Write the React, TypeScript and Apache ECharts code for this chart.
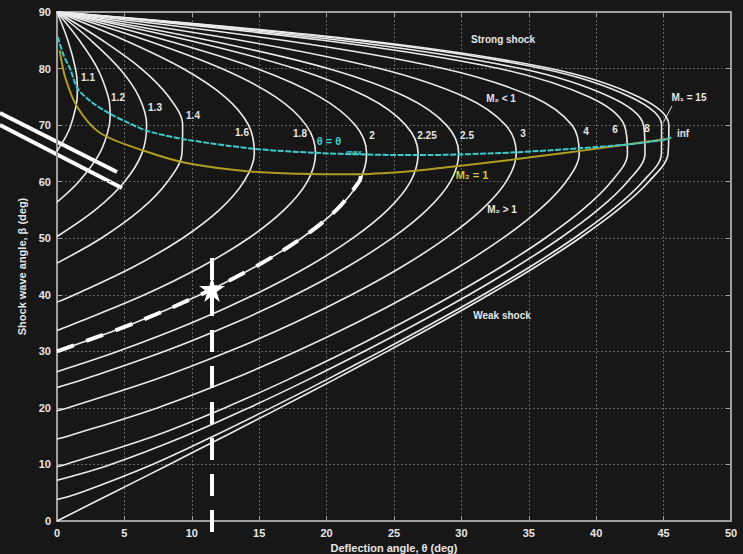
import React, { useEffect, useRef } from "react";
import * as echarts from "echarts";

// θ–β–M oblique shock chart: each curve is [deflection θ (deg), shock angle β (deg)]
const curveM1_1 = [[0, 65.4], [0.66, 68], [1.03, 70], [1.5, 75], [1.51, 77], [1.37, 80], [0.8, 85], [0, 90]];
const curveM1_2 = [[0, 56.4], [1.61, 60], [3.16, 65], [3.88, 70], [3.94, 72], [3.8, 75], [3.01, 80], [1.66, 85], [0, 90]];
const curveM1_3 = [[0, 50.3], [2.84, 55], [5.01, 60], [6.3, 65], [6.65, 70], [6.08, 75], [4.64, 80], [2.51, 85], [0, 90]];
const curveM1_4 = [[0, 45.6], [3.28, 50], [6.18, 55], [8.2, 60], [9.27, 65], [9.32, 70], [8.29, 75], [6.25, 80], [3.36, 85], [0, 90]];
const curveM1_6 = [[0, 38.7], [1.31, 40], [5.72, 45], [9.31, 50], [12.05, 55], [13.86, 60], [14.64, 65], [14.21, 70], [12.46, 75], [9.34, 80], [5.03, 85], [0, 90]];
const curveM1_8 = [[0, 33.7], [1.41, 35], [6.49, 40], [10.74, 45], [14.21, 50], [16.85, 55], [18.57, 60], [19.18, 65], [18.48, 70], [16.21, 75], [12.21, 80], [6.61, 85], [0, 90]];
const curveM2 = [[0, 30], [5.75, 35], [10.62, 40], [14.74, 45], [18.13, 50], [20.73, 55], [22.41, 60], [22.97, 65], [22.12, 70], [19.49, 75], [14.81, 80], [8.08, 85], [0, 90]];
const curveM2_25 = [[0, 26.4], [4.53, 30], [9.96, 35], [14.63, 40], [18.63, 45], [21.94, 50], [24.53, 55], [26.22, 60], [26.79, 65], [25.87, 70], [22.99, 75], [17.66, 80], [9.74, 85], [0, 90]];
const curveM2_5 = [[0, 23.6], [1.93, 25], [7.99, 30], [13.17, 35], [17.68, 40], [21.57, 45], [24.85, 50], [27.44, 55], [29.18, 60], [29.8, 65], [28.89, 70], [25.88, 75], [20.1, 80], [11.21, 85], [0, 90]];
const curveM3 = [[0, 19.5], [0.77, 20], [7.28, 25], [12.77, 30], [17.58, 35], [21.85, 40], [25.62, 45], [28.86, 50], [31.49, 55], [33.32, 60], [34.07, 65], [33.28, 70], [30.22, 75], [23.93, 80], [13.6, 85], [0, 90]];
const curveM4 = [[0, 14.5], [0.8, 15], [7.44, 20], [12.94, 25], [17.78, 30], [22.18, 35], [26.2, 40], [29.85, 45], [33.07, 50], [35.77, 55], [37.76, 60], [38.74, 65], [38.2, 70], [35.3, 75], [28.66, 80], [16.76, 85], [0, 90]];
const curveM6 = [[0, 9.6], [0.64, 10], [7.18, 15], [12.44, 20], [17.13, 25], [21.49, 30], [25.57, 35], [29.42, 40], [32.98, 45], [36.2, 50], [38.97, 55], [41.11, 60], [42.32, 65], [42.08, 70], [39.45, 75], [32.79, 80], [19.72, 85], [0, 90]];
const curveM8 = [[0, 7.2], [3.98, 10], [9.47, 15], [14.22, 20], [18.63, 25], [22.8, 30], [26.78, 35], [30.56, 40], [34.09, 45], [37.32, 50], [40.12, 55], [42.32, 60], [43.62, 65], [43.51, 70], [41.01, 75], [34.4, 80], [20.95, 85], [0, 90]];
const curveM15 = [[0, 3.8], [1.72, 5], [7.08, 10], [11.6, 15], [15.87, 20], [20.01, 25], [24.02, 30], [27.9, 35], [31.62, 40], [35.13, 45], [38.35, 50], [41.18, 55], [43.45, 60], [44.84, 65], [44.85, 70], [42.5, 75], [35.97, 80], [22.18, 85], [0, 90]];
const curveMinf = [[0, 0], [4.16, 5], [8.32, 10], [12.44, 15], [16.53, 20], [20.56, 25], [24.5, 30], [28.35, 35], [32.04, 40], [35.54, 45], [38.76, 50], [41.61, 55], [43.9, 60], [45.33, 65], [45.39, 70], [43.12, 75], [36.61, 80], [22.7, 85], [0, 90]];

const machCurves = [curveM1_1, curveM1_2, curveM1_3, curveM1_4, curveM1_6, curveM1_8, curveM2, curveM2_25, curveM2_5, curveM3, curveM4, curveM6, curveM8, curveM15, curveMinf];
const machLabels = ["1.1", "1.2", "1.3", "1.4", "1.6", "1.8", "2", "2.25", "2.5", "3", "4", "6", "8", "M\u2081 = 15", "inf"];

// locus of maximum deflection and sonic (M2 = 1) line
const thetaMaxLine = [[0.05, 85.6], [0.5, 82.3], [1.0, 79.8], [1.52, 76.5], [2.5, 74.2], [3.94, 72.0], [5.3, 70.4], [6.66, 69.0], [9.43, 67.5], [14.66, 65.8], [19.18, 65.1], [22.97, 64.8], [26.8, 64.7], [29.8, 64.8], [34.07, 65.2], [38.77, 65.9], [42.44, 66.6], [43.79, 67.0], [45.0, 67.4], [45.58, 67.8]];
const sonicLine = [[0.2, 83.2], [0.6, 78.5], [1.5, 73.2], [3.2, 68.6], [6.4, 65.5], [9.6, 63.3], [14.3, 61.8], [18, 61.4], [22, 61.3], [26, 61.8], [29.1, 62.6], [32.8, 63.6], [36, 64.6], [38.7, 65.4], [42, 66.5], [45.4, 67.6]];

// worked example: M = 2 weak branch, θ = 11.5°
const highlightedWeakM2 = [[0, 30], [5.75, 35], [10.62, 40], [14.74, 45], [18.13, 50], [20.73, 55], [22.41, 60], [22.55, 61]];
const exampleTheta = 11.5;
const exampleBeta = 41;
const exampleVertical = [[exampleTheta, 46.5], [exampleTheta, -3]];

const xTicks = { min: 0, max: 50, interval: 5 };
const yTicks = { min: 0, max: 90, interval: 10 };

// label placement (pixels)
const machLabelPos = [[88, 77], [118, 97], [155, 107], [193, 115], [242, 132], [300, 133], [372, 135], [427, 135], [467, 135], [523, 133], [586, 131], [615, 129], [647, 128], [689, 97], [683, 133]];

const STAR = "path://M50,0 L60,36 L98,36 L67,57 L79,94 L50,72 L21,94 L33,57 L2,36 L40,36 Z";

const FONT = '"Liberation Sans", Arial, sans-serif';
const AXIS_GREY = "#a0a0a0";
const TEXT = "#e6e6e6";

export default function App() {
  const ref = useRef<HTMLDivElement>(null);

  useEffect(() => {
    if (!ref.current) return;
    const chart = echarts.init(ref.current, null, { renderer: "svg" });

    const curveSeries = machCurves.map((d, i) => ({
      type: "line",
      name: machLabels[i],
      data: d,
      smooth: 0.35,
      showSymbol: false,
      silent: true,
      z: 2,
      lineStyle: { color: "#ebebeb", width: 1.6 },
    }));

    const labelText = (txt: string, x: number, y: number, fill = TEXT, size = 10) => ({
      type: "text",
      x,
      y,
      silent: true,
      z: 10,
      style: {
        text: txt,
        fill,
        font: `bold ${size}px ${FONT}`,
        align: "center",
        verticalAlign: "middle",
      },
    });

    const graphics: any[] = machLabels.map((t, i) => labelText(t, machLabelPos[i][0], machLabelPos[i][1]));
    graphics.push(
      labelText("Strong shock", 503, 39),
      labelText("M\u2082 < 1", 501, 98),
      labelText("M\u2082 > 1", 502, 209),
      labelText("Weak shock", 502, 315),
      labelText("\u03b8 = \u03b8", 329, 141, "#3fd0d2", 11),
      labelText("max", 354, 152, "#3fd0d2", 8),
      labelText("M\u2082 = 1", 472, 175, "#d8c531", 11),
      {
        type: "line",
        silent: true,
        shape: { x1: 672, y1: 106, x2: 663, y2: 123 },
        style: { stroke: "#dddddd", lineWidth: 1 },
      },
      {
        type: "line",
        silent: true,
        shape: { x1: 0, y1: 113, x2: 117, y2: 172 },
        style: { stroke: "#ffffff", lineWidth: 4 },
      },
      {
        type: "line",
        silent: true,
        shape: { x1: 0, y1: 125, x2: 122, y2: 188 },
        style: { stroke: "#ffffff", lineWidth: 4 },
      }
    );

    const axisLabelStyle = { color: TEXT, fontSize: 11, fontWeight: "bold", fontFamily: FONT };
    const nameStyle = { color: TEXT, fontSize: 11, fontWeight: "bold", fontFamily: FONT };
    const gridLine = { show: true, lineStyle: { color: "#606060", type: [2, 2], width: 1 } };
    const frameLine = { show: true, onZero: false, lineStyle: { color: AXIS_GREY, width: 2 } };
    const innerTick = { show: true, inside: true, length: 5, lineStyle: { color: AXIS_GREY, width: 1 } };

    chart.setOption({
      animation: false,
      backgroundColor: "#171717",
      grid: { left: 57, right: 12, top: 12, bottom: 33, containLabel: false, outerBoundsMode: "none" },
      xAxis: [
        {
          type: "value",
          ...xTicks,
          position: "bottom",
          axisLine: frameLine,
          axisTick: innerTick,
          axisLabel: { ...axisLabelStyle, margin: 6 },
          splitLine: gridLine,
          name: "Deflection angle, \u03b8 (deg)",
          nameLocation: "middle",
          nameGap: 19,
          nameTextStyle: nameStyle,
        },
        {
          type: "value",
          ...xTicks,
          position: "top",
          axisLine: frameLine,
          axisTick: innerTick,
          axisLabel: { show: false },
          splitLine: { show: false },
        },
      ],
      yAxis: [
        {
          type: "value",
          ...yTicks,
          position: "left",
          axisLine: frameLine,
          axisTick: innerTick,
          axisLabel: { ...axisLabelStyle, margin: 6 },
          splitLine: gridLine,
          name: "Shock wave angle, \u03b2 (deg)",
          nameLocation: "middle",
          nameGap: 21,
          nameTextStyle: nameStyle,
        },
        {
          type: "value",
          ...yTicks,
          position: "right",
          axisLine: frameLine,
          axisTick: innerTick,
          axisLabel: { show: false },
          splitLine: { show: false },
        },
      ],
      series: [
        ...curveSeries,
        {
          type: "line",
          name: "theta max",
          data: thetaMaxLine,
          smooth: 0.3,
          showSymbol: false,
          silent: true,
          z: 4,
          lineStyle: { color: "#3cc9cc", width: 2, type: [6, 1.5] },
        },
        {
          type: "line",
          name: "M2 = 1",
          data: sonicLine,
          smooth: 0.3,
          showSymbol: false,
          silent: true,
          z: 3,
          lineStyle: { color: "#ae9e24", width: 2 },
        },
        {
          type: "line",
          name: "M = 2 weak",
          data: highlightedWeakM2,
          smooth: 0.35,
          showSymbol: false,
          silent: true,
          z: 5,
          lineStyle: { color: "#ffffff", width: 4, type: [18, 13] },
        },
        {
          type: "line",
          name: "theta = 11.5",
          data: exampleVertical,
          clip: false,
          showSymbol: false,
          silent: true,
          z: 5,
          lineStyle: { color: "#ffffff", width: 4, type: [22, 14] },
        },
        {
          type: "scatter",
          name: "solution",
          data: [[exampleTheta, exampleBeta]],
          symbol: STAR,
          symbolSize: 26,
          silent: true,
          z: 6,
          itemStyle: { color: "#ffffff", opacity: 1 },
        },
      ],
      graphic: graphics,
    });

    return () => chart.dispose();
  }, []);

  return (
    <div
      ref={ref}
      style={{ position: "fixed", left: 0, top: 0, width: 743, height: 554, background: "#171717" }}
    />
  );
}
